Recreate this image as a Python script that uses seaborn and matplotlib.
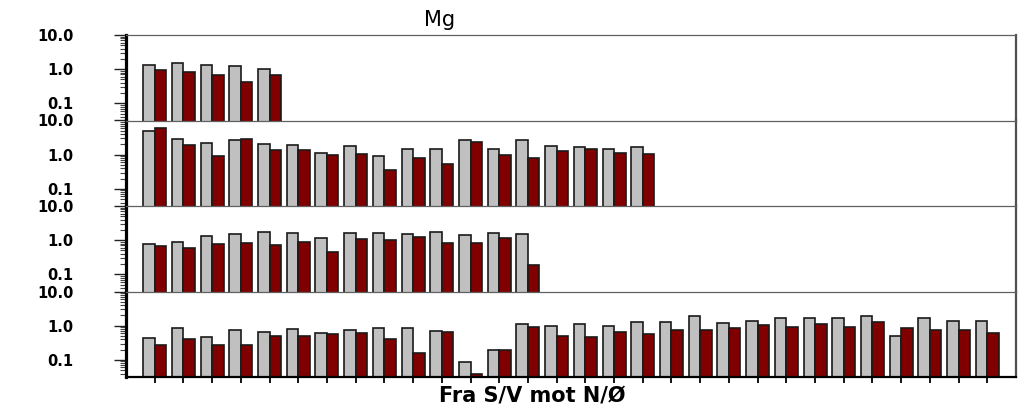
import matplotlib
matplotlib.use("Agg")
import matplotlib.pyplot as plt
import numpy as np
import pandas as pd
import seaborn as sns
from matplotlib.ticker import LogLocator, NullFormatter, FixedLocator, FixedFormatter

# ---- data ----
title = "Mg"
xlabel = "Fra S/V mot N/Ø"
series_names = ["serie 1", "serie 2"]
series_colors = ["#c0c0c0", "#800000"]
ytick_values = [0.1, 1.0, 10.0]
ytick_labels = ["0.1", "1.0", "10.0"]

p1_gray = [1.37, 1.57, 1.31, 1.20, 1.00]
p1_red = [0.93, 0.84, 0.67, 0.42, 0.67]

p2_gray = [5.0, 2.9, 2.19, 2.63, 2.0, 1.95, 1.15, 1.74, 0.91, 1.51, 1.51, 2.75,
           1.48, 2.75, 1.82, 1.66, 1.45, 1.66]
p2_red = [5.9, 1.9, 0.91, 2.9, 1.38, 1.38, 1.0, 1.05, 0.35, 0.79, 0.55, 2.4,
          0.95, 0.79, 1.32, 1.45, 1.15, 1.05]

p3_gray = [0.80, 0.87, 1.37, 1.57, 1.72, 1.64, 1.15, 1.64, 1.64, 1.50, 1.72, 1.43,
           1.64, 1.57]
p3_red = [0.67, 0.58, 0.80, 0.83, 0.70, 0.91, 0.46, 1.09, 1.00, 1.25, 0.83, 0.83,
          1.15, 0.19]

p4_gray = [0.43, 0.87, 0.46, 0.76, 0.67, 0.80, 0.61, 0.75, 0.87, 0.87, 0.70, 0.087,
           0.19, 1.09, 0.96, 1.09, 1.00, 1.25, 1.31, 1.88, 1.20, 1.37, 1.72, 1.72,
           1.72, 1.97, 0.51, 1.64, 1.37, 1.37]
p4_red = [0.28, 0.42, 0.28, 0.28, 0.49, 0.51, 0.56, 0.61, 0.41, 0.16, 0.65, 0.040,
          0.19, 0.91, 0.51, 0.46, 0.64, 0.56, 0.76, 0.73, 0.83, 1.05, 0.91, 1.14,
          0.91, 1.25, 0.83, 0.76, 0.76, 0.61]

panels = [(p1_gray, p1_red), (p2_gray, p2_red), (p3_gray, p3_red), (p4_gray, p4_red)]
n_slots = 30

# ---- style ----
sns.set_style("white")
plt.rcParams["font.family"] = ["DejaVu Sans"]
plt.rcParams["text.color"] = "black"
plt.rcParams["xtick.labelcolor"] = "black"
plt.rcParams["ytick.labelcolor"] = "black"

W, H = 1020, 412
fig = plt.figure(figsize=(W / 100, H / 100), dpi=100)
gs = fig.add_gridspec(4, 1, left=126 / W, right=1016 / W, top=1 - 35 / H,
                      bottom=1 - 377 / H, hspace=0)
axes = [fig.add_subplot(gs[i]) for i in range(4)]

palette = dict(zip(series_names, series_colors))

for i, (ax, (g, r)) in enumerate(zip(axes, panels)):
    n = len(g)
    df = pd.DataFrame({
        "stasjon": list(range(n)) * 2,
        "verdi": list(g) + list(r),
        "serie": [series_names[0]] * n + [series_names[1]] * n,
    })
    sns.barplot(data=df, x="stasjon", y="verdi", hue="serie", hue_order=series_names,
                palette=palette, errorbar=None, width=0.8, saturation=1,
                edgecolor="#1a1a1a", linewidth=1.2, legend=False, ax=ax)
    ax.set_yscale("log")
    ax.set_ylim(10 ** -1.5, 10)
    ax.set_xlim(-1, n_slots)
    ax.set_xlabel("")
    ax.set_ylabel("")

    ax.yaxis.set_major_locator(FixedLocator(ytick_values))
    ax.yaxis.set_major_formatter(FixedFormatter(ytick_labels))
    ax.yaxis.set_minor_locator(LogLocator(base=10, subs=np.arange(2, 10)))
    ax.yaxis.set_minor_formatter(NullFormatter())
    ax.tick_params(axis="y", which="major", left=True, direction="out", length=9,
                   width=1.0, color="#222222", pad=29, labelsize=10.5,
                   labelcolor="black")
    ax.tick_params(axis="y", which="minor", left=True, direction="out", length=4,
                   width=0.8, color="#444444")
    for lab in ax.get_yticklabels():
        lab.set_fontweight("bold")

    ax.spines["left"].set_color("black")
    ax.spines["left"].set_linewidth(2.3)
    ax.spines["right"].set_color("#505050")
    ax.spines["right"].set_linewidth(1.6)
    ax.spines["top"].set_color("#606060")
    ax.spines["top"].set_linewidth(0.9)
    ax.set_facecolor("white")

    if i < 3:
        ax.spines["bottom"].set_visible(False)
        ax.tick_params(axis="x", bottom=False, labelbottom=False)
    else:
        ax.spines["bottom"].set_visible(True)
        ax.spines["bottom"].set_color("black")
        ax.spines["bottom"].set_linewidth(1.6)
        ax.xaxis.set_major_locator(FixedLocator(list(range(n_slots))))
        ax.xaxis.set_major_formatter(FixedFormatter([""] * n_slots))
        ax.tick_params(axis="x", bottom=True, direction="out", length=4, width=1.3,
                       color="black", labelbottom=False)

fig.text(440 / W, 1 - 20 / H, title, ha="center", va="center", fontsize=15,
         color="black")
fig.text(532 / W, 1 - 397 / H, xlabel, ha="center", va="center", fontsize=15,
         fontweight="bold", color="black")

fig.savefig("out.png", dpi=100, facecolor="white")
